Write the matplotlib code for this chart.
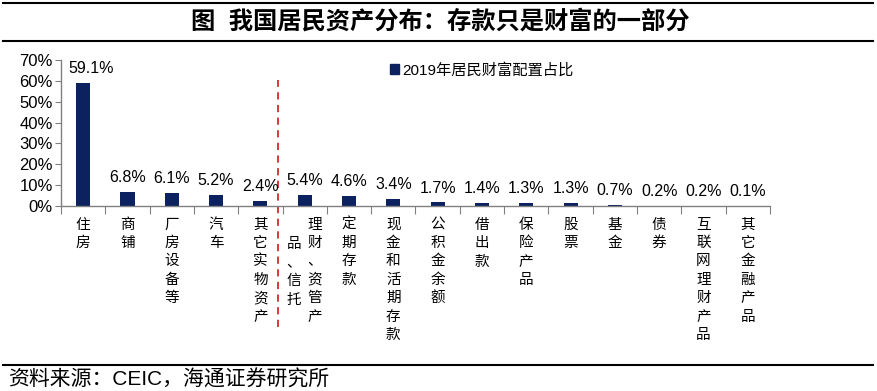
import matplotlib
matplotlib.use("Agg")
import matplotlib.pyplot as plt
from matplotlib.lines import Line2D
from matplotlib.patches import Patch

plt.rcParams['font.family'] = ['Liberation Sans', 'Noto Sans CJK SC']

categories = ['住房', '商铺', '厂房设备等', '汽车', '其它实物资产',
              '理财、资管产品、信托', '定期存款', '现金和活期存款', '公积金余额',
              '借出款', '保险产品', '股票', '基金', '债券', '互联网理财产品',
              '其它金融产品']
values = [59.1, 6.8, 6.1, 5.2, 2.4, 5.4, 4.6, 3.4, 1.7, 1.4, 1.3, 1.3,
          0.7, 0.2, 0.2, 0.1]
yticks = [0, 10, 20, 30, 40, 50, 60, 70]
legend_label = '2019年居民财富配置占比'

navy = '#0b2160'
W, H = 878, 391

fig = plt.figure(figsize=(W / 100, H / 100), dpi=100)
ax = fig.add_axes([61 / W, 1 - 206 / H, (770 - 61) / W, (206 - 60) / H])

x = list(range(len(categories)))
ax.bar(x, values, width=0.32, color=navy)
for i, (xi, v) in enumerate(zip(x, values)):
    dx = 6 if i == 0 else 0
    ax.annotate(f'{v:.1f}%', (xi, v), xytext=(dx, 5), textcoords='offset points',
                ha='center', va='bottom', fontsize=11.5, color='black')

ax.set_xlim(-0.5, len(categories) - 0.5)
ax.set_ylim(0, 70)
ax.set_yticks(yticks)
ax.set_yticklabels([f'{t}%' for t in yticks], fontsize=12)

# ticks between categories
ax.set_xticks([i + 0.5 for i in range(-1, len(categories))])
ax.set_xticklabels([])
ax.tick_params(axis='x', length=6, color='#808080', direction='out')
ax.tick_params(axis='y', length=4, color='#808080', direction='out', pad=2)
for s in ['top', 'right']:
    ax.spines[s].set_visible(False)
for s in ['left', 'bottom']:
    ax.spines[s].set_color('#808080')
    ax.spines[s].set_linewidth(1)

# vertical category labels
trans = ax.get_xaxis_transform()
ls = 1.4
for xi, cat in zip(x, categories):
    if cat == '理财、资管产品、信托':
        ax.text(xi + 0.23, -0.08, '\n'.join('理财、资管产'), transform=trans,
                ha='center', va='top', fontsize=10.5, linespacing=ls)
        ax.text(xi - 0.25, -0.215, '\n'.join('品、信托'), transform=trans,
                ha='center', va='top', fontsize=10.5, linespacing=ls)
    else:
        ax.text(xi, -0.08, '\n'.join(cat), transform=trans,
                ha='center', va='top', fontsize=10.5, linespacing=ls)

# red dashed separator
ax.plot([4.39, 4.39], [-0.83, 0.86], transform=trans, color='#d02b2b',
        lw=1.3, ls=(0, (4, 3)), clip_on=False)

ax.legend(handles=[Patch(color=navy, label=legend_label)], frameon=False,
          loc='upper left', bbox_to_anchor=((376 - 61) / (770 - 61), 1.075),
          handlelength=0.6, handleheight=0.6, handletextpad=0.2, fontsize=11)

# title block and source
fig.add_artist(Line2D([3 / W, 873 / W], [1 - 3 / H, 1 - 3 / H], color='black', lw=1.5))
fig.add_artist(Line2D([3 / W, 873 / W], [1 - 41 / H, 1 - 41 / H], color='black', lw=1.5))
fig.text(440 / W, 1 - 22 / H, '图  我国居民资产分布：存款只是财富的一部分',
         ha='center', va='center', fontsize=17.5, weight='bold')
fig.add_artist(Line2D([3 / W, 873 / W], [1 - 365 / H, 1 - 365 / H], color='black', lw=1.5))
fig.text(8 / W, 1 - 380 / H, '资料来源：CEIC，海通证券研究所',
         ha='left', va='center', fontsize=15)

fig.savefig('out.png', dpi=100)
